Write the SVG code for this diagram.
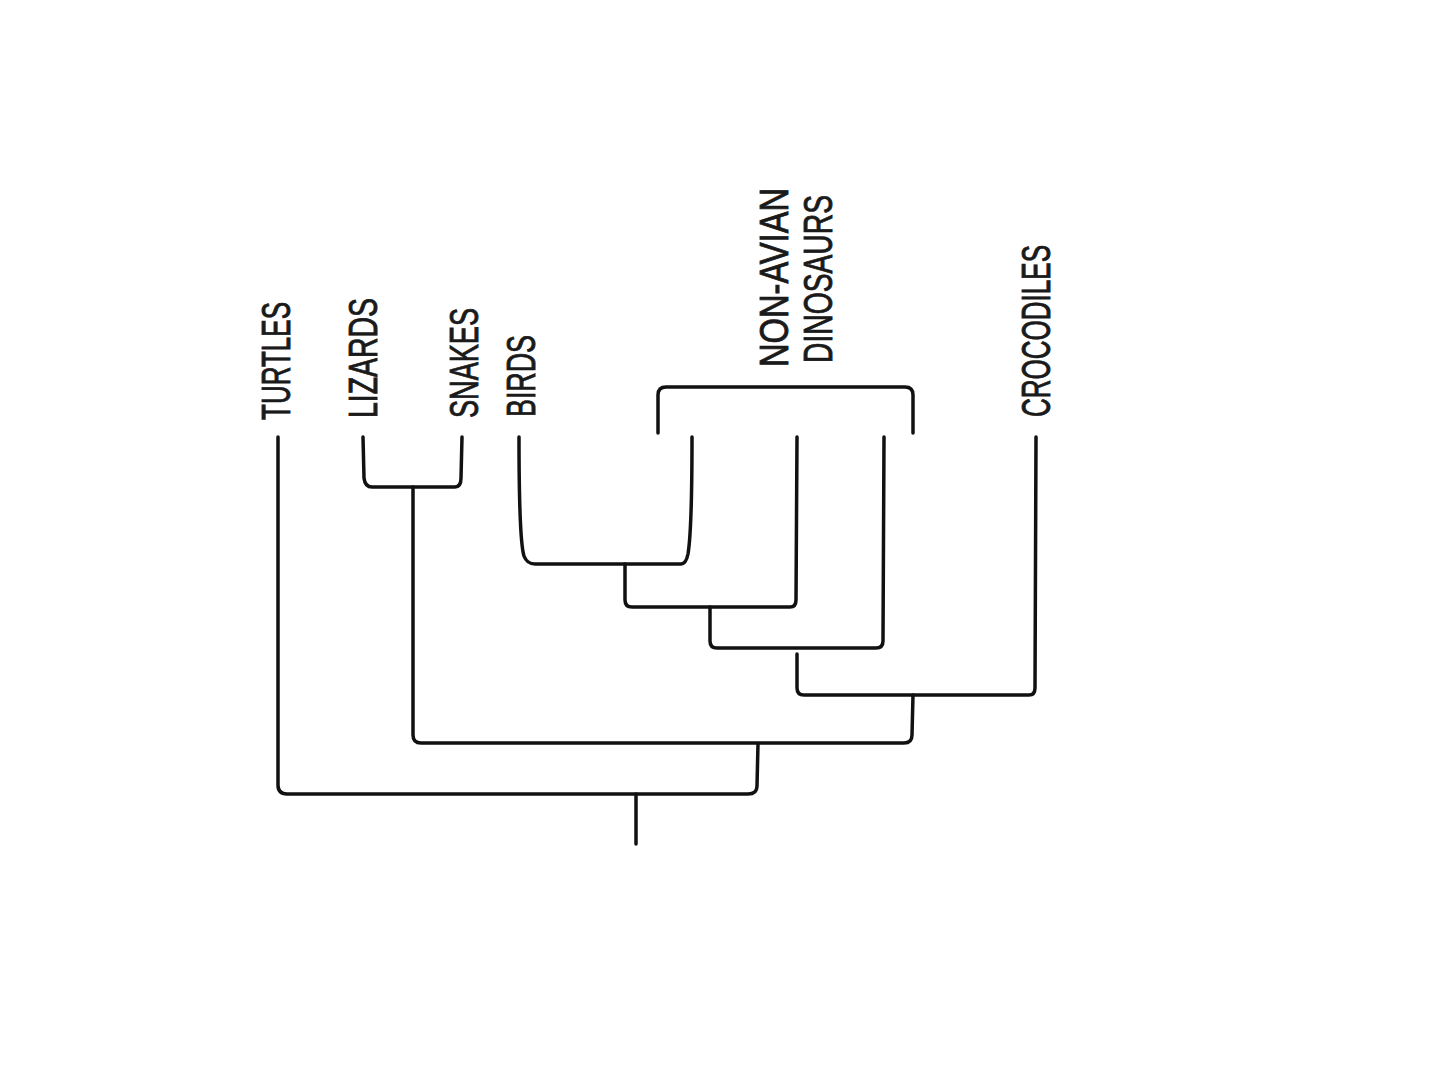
<svg xmlns="http://www.w3.org/2000/svg" width="1440" height="1080" viewBox="0 0 1440 1080">
<style>
.c{fill:none;stroke:#111;stroke-width:3.5;stroke-linecap:round;stroke-linejoin:round}
.t{font-family:"Liberation Sans Narrow","Liberation Sans",Arial,sans-serif;font-size:41px;fill:#1a1a1a;stroke:#1a1a1a;stroke-width:0.9}
</style>
<rect width="1440" height="1080" fill="#fff"/>
<g id="labels">
<g id="turtles"><text class="t" transform="translate(290,420) rotate(-90)" textLength="118" lengthAdjust="spacingAndGlyphs">TURTLES</text></g>
<g id="lizards"><text class="t" transform="translate(377,418) rotate(-90)" textLength="120" lengthAdjust="spacingAndGlyphs">LIZARDS</text></g>
<g id="snakes"><text class="t" transform="translate(478,418) rotate(-90)" textLength="110" lengthAdjust="spacingAndGlyphs">SNAKES</text></g>
<g id="birds"><text class="t" transform="translate(535,417) rotate(-90)" textLength="82" lengthAdjust="spacingAndGlyphs">BIRDS</text></g>
<g id="nonavian"><text class="t" transform="translate(788,367) rotate(-90)" textLength="179" lengthAdjust="spacingAndGlyphs">NON-AVIAN</text>
<text class="t" transform="translate(832,363) rotate(-90)" textLength="168" lengthAdjust="spacingAndGlyphs">DINOSAURS</text></g>
<g id="crocodiles"><text class="t" transform="translate(1050,417) rotate(-90)" textLength="172" lengthAdjust="spacingAndGlyphs">CROCODILES</text></g>
</g>
<g id="connectors">
<path class="c" d="M278,437 L278,785 Q278,794 287,794 L748,794 Q757,794 757,786 L758,744"/>
<path class="c" d="M636,794 L636,844"/>
<path class="c" d="M363,437 L364,478 Q365,487 372,487 L455,487 Q461,487 461,478 L462,437"/>
<path class="c" d="M413,487 L413,735 Q413,743 421,743 L904,743 Q912,743 912,735 L913,695"/>
<path class="c" d="M519,437 Q519,540 524,556 Q527,564 535,564 L681,564 Q686,564 688,554 Q692,530 692,437"/>
<path class="c" d="M625,564 L625,600 Q625,607 632,607 L790,607 Q796,607 796,600 L797,437"/>
<path class="c" d="M710,607 L710,641 Q710,648 717,648 L876,648 Q883,648 883,641 L884,437"/>
<path class="c" d="M797,654 L797,688 Q797,695 804,695 L1029,695 Q1035,695 1035,688 L1036,437"/>
<path class="c" d="M658,433 L658,395 Q658,387 666,387 L905,387 Q913,387 913,395 L913,433"/>
</g>
</svg>
